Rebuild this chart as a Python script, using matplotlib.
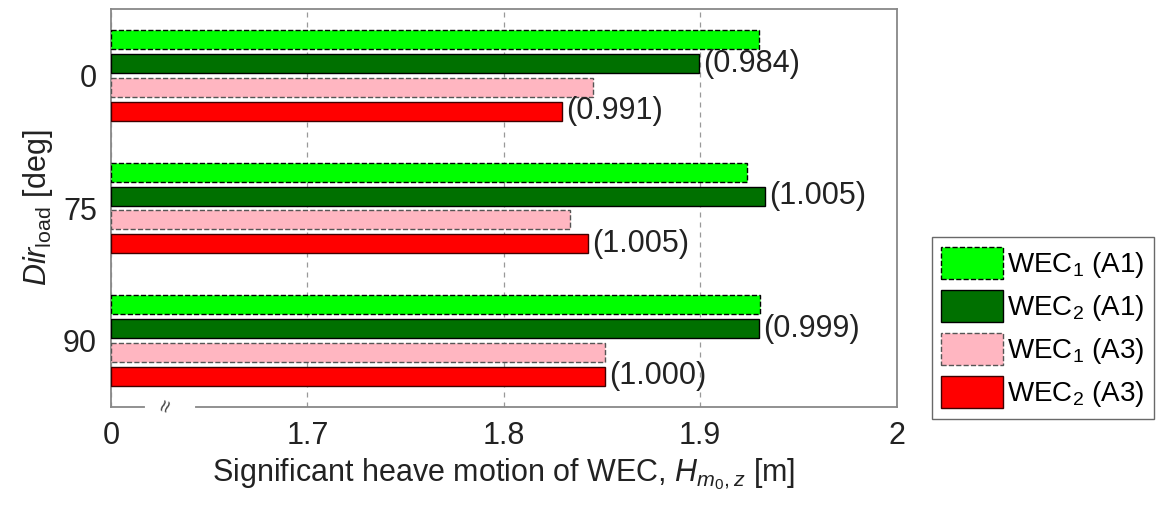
import matplotlib.pyplot as plt
import numpy as np

plt.rcParams['font.family'] = ['Liberation Sans', 'DejaVu Sans']
plt.rcParams['mathtext.fontset'] = 'custom'
plt.rcParams['mathtext.rm'] = 'Liberation Sans'
plt.rcParams['mathtext.it'] = 'Liberation Sans:italic'

# Load directions and heave motion results (m)
directions = ['0', '75', '90']
wec1_a1 = [1.9298, 1.9238, 1.9306]
wec2_a1 = [1.8995, 1.9332, 1.9301]
wec1_a3 = [1.8454, 1.8338, 1.8517]
wec2_a3 = [1.8296, 1.8428, 1.8517]
ratio_a1 = ['(0.984)', '(1.005)', '(0.999)']
ratio_a3 = ['(0.991)', '(1.005)', '(1.000)']

xticks = [1.6, 1.7, 1.8, 1.9, 2.0]
xticklabels = ['0', '1.7', '1.8', '1.9', '2']

series = [
    (wec1_a1, '#00ff00', 'black', '--', 'WEC$_1$ (A1)'),
    (wec2_a1, '#007000', 'black', '-', 'WEC$_2$ (A1)'),
    (wec1_a3, '#ffb6c1', '#555555', '--', 'WEC$_1$ (A3)'),
    (wec2_a3, '#ff0000', '#400000', '-', 'WEC$_2$ (A3)'),
]

fs = 22

fig = plt.figure(figsize=(11.72, 5.17), dpi=100)
ax = fig.add_axes([0.0947, 0.2133, 0.6703, 0.7687])

y = np.arange(1, len(directions) + 1)
pitch = 0.18
height = 0.143
xmin = 1.6
handles = []
for i, (vals, fc, ec, ls, lab) in enumerate(series):
    off = (i - 1.5) * pitch
    b = ax.barh(y + off, np.array(vals) - xmin, left=xmin, height=height,
                color=fc, edgecolor=ec, linestyle=ls, linewidth=1.0,
                label=lab, zorder=3)
    handles.append(b)

# ratio labels next to the WEC2 bars
for k in range(len(directions)):
    ax.text(wec2_a1[k] + 0.002, y[k] - 0.5 * pitch, ratio_a1[k],
            va='center', ha='left', fontsize=fs, color='#222222', zorder=4)
    ax.text(wec2_a3[k] + 0.002, y[k] + 1.5 * pitch, ratio_a3[k],
            va='center', ha='left', fontsize=fs, color='#222222', zorder=4)

ax.set_xlim(1.6, 2.0)
ax.set_ylim(3.5, 0.5)
ax.set_xticks(xticks)
ax.set_xticklabels(xticklabels)
ax.set_yticks(y)
ax.set_yticklabels(directions)
ax.tick_params(length=0, labelsize=fs, pad=10, colors='#222222')
ax.xaxis.grid(True, linestyle=(0, (4, 4)), color='#999999', linewidth=0.9)
ax.set_axisbelow(True)
for s in ax.spines.values():
    s.set_color('#888888')
    s.set_linewidth(1.3)

# axis break on the bottom spine
ax.plot([0.046, 0.104], [0, 0], transform=ax.transAxes, color='white',
        linewidth=3, clip_on=False, zorder=5)
ax.text(0.072, 0.0, '≈', transform=ax.transAxes, rotation=70, ha='center',
        va='center', fontsize=16, color='#444444', clip_on=False, zorder=6)

ax.set_xlabel(r'Significant heave motion of WEC, $H_{m_0,z}$ [m]',
              fontsize=fs, color='#222222', labelpad=4)
ax.set_ylabel(r'$Dir_{\mathrm{load}}$ [deg]', fontsize=fs, color='#222222',
              labelpad=6)

leg = fig.legend(handles=handles, loc='upper left',
                 bbox_to_anchor=(0.795, 0.542), fontsize=20, frameon=True,
                 fancybox=False, edgecolor='#444444', handlelength=2.2,
                 handleheight=1.4, handletextpad=0.15, labelspacing=0.35,
                 borderpad=0.35, borderaxespad=0.0)
leg.get_frame().set_linewidth(1.0)

fig.savefig('out.png', dpi=100)
